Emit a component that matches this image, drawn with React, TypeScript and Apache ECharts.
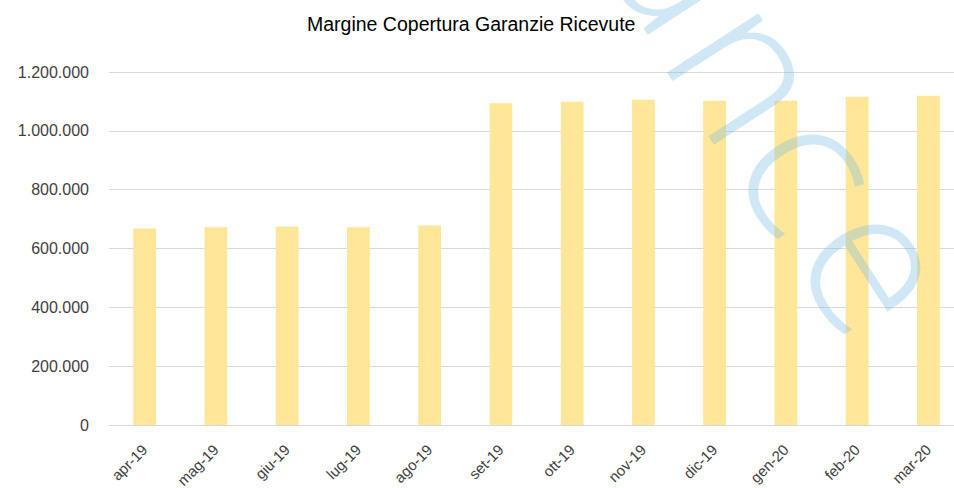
import React, { useEffect, useRef } from "react";
import * as echarts from "echarts";

const categories = ["apr-19", "mag-19", "giu-19", "lug-19", "ago-19", "set-19", "ott-19", "nov-19", "dic-19", "gen-20", "feb-20", "mar-20"];
const values = [668000, 672000, 675000, 672000, 678000, 1094000, 1099000, 1106000, 1102000, 1102000, 1116000, 1119000];
const chartTitle = "Margine Copertura Garanzie Ricevute";
const watermarkLetters = ["a", "n", "c", "e"];

const fmt = (v: number) => String(Math.round(v)).replace(/\B(?=(\d{3})+(?!\d))/g, ".");

export default function App() {
  const ref = useRef<HTMLDivElement>(null);
  useEffect(() => {
    if (!ref.current) return;
    const chart = echarts.init(ref.current, null, { renderer: "svg" });
    const letterPos = [
      [694, -40],
      [757, 65],
      [819, 163],
      [885, 260],
    ];
    const rot = (-57 * Math.PI) / 180;
    chart.setOption({
      animation: false,
      backgroundColor: "#ffffff",
      title: {
        text: chartTitle,
        left: 302,
        top: 9,
        textStyle: { fontFamily: "Liberation Sans", fontSize: 19.5, fontWeight: "normal", color: "#000000" },
      },
      grid: { left: 109, width: 855, top: 72, bottom: 63, containLabel: false, outerBoundsMode: "none" },
      xAxis: {
        type: "category",
        data: categories,
        axisLine: { show: true, lineStyle: { color: "#d9d9d9", width: 1 } },
        axisTick: { show: false },
        axisLabel: { rotate: 45, margin: 22, fontFamily: "Liberation Sans", fontSize: 15, color: "#404040", interval: 0 },
      },
      yAxis: {
        type: "value",
        min: 0,
        max: 1200000,
        interval: 200000,
        axisLine: { show: false },
        axisTick: { show: false },
        splitLine: { lineStyle: { color: "#d9d9d9", width: 1 } },
        axisLabel: { margin: 20, fontFamily: "Liberation Sans", fontSize: 16, color: "#404040", formatter: (v: number) => fmt(v) },
      },
      series: [
        {
          type: "bar",
          data: values,
          barWidth: "32%",
          itemStyle: { color: "#FFE699" },
        },
      ],
      graphic: watermarkLetters.map((ch, i) => ({
        type: "text",
        x: letterPos[i][0],
        y: letterPos[i][1],
        rotation: rot,
        z: 100,
        silent: true,
        style: {
          text: ch,
          fontSize: 205,
          fontFamily: "Open Sans",
          fontWeight: 300,
          fill: "rgba(120,190,225,0.35)",
          align: "center",
          verticalAlign: "middle",
        },
      })),
    });
    return () => chart.dispose();
  }, []);
  return <div ref={ref} style={{ width: 954, height: 488, position: "absolute", left: 0, top: 0 }} />;
}
